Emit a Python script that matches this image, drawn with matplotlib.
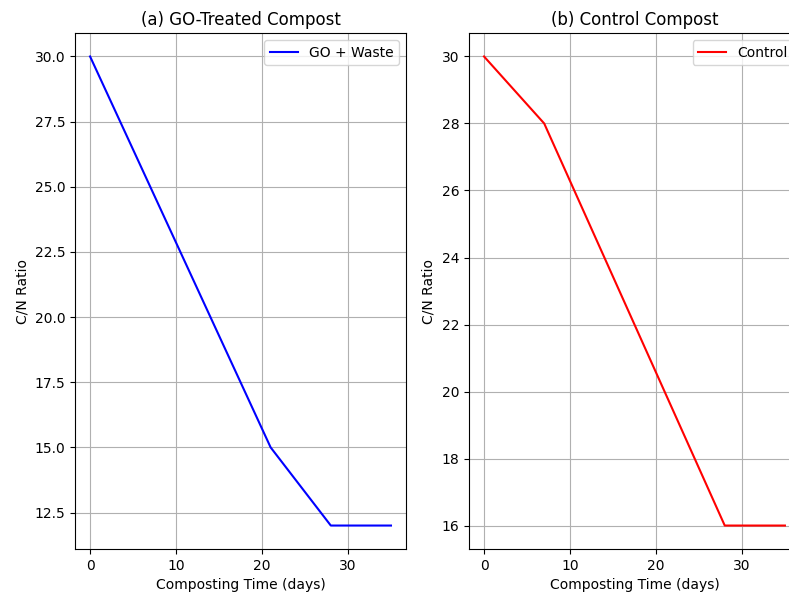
import numpy as np
import matplotlib
matplotlib.use('Agg')
import matplotlib.pyplot as plt

days = [0, 7, 14, 21, 28, 35]
cn_go_waste = [30, 25, 20, 15, 12, 12]
cn_control = [30, 28, 24, 20, 16, 16]

fig = plt.figure(figsize = (7.89, 5.97), dpi = 100)

# right panel runs past the figure edge, as in the reference
ax1 = fig.add_axes([0.0951, 0.0804, 0.4195, 0.8643])
ax2 = fig.add_axes([0.5944, 0.0804, 0.4195, 0.8643])

ax1.plot(days, cn_go_waste, color = 'blue', label = 'GO + Waste')
ax1.set_title('(a) GO-Treated Compost')
ax1.set_xlabel('Composting Time (days)')
ax1.set_ylabel('C/N Ratio')
ax1.grid()
ax1.legend(loc = 'upper right')

ax2.plot(days, cn_control, color = 'red', label = 'Control')
ax2.set_title('(b) Control Compost')
ax2.set_xlabel('Composting Time (days)')
ax2.set_ylabel('C/N Ratio')
ax2.grid()
ax2.legend(loc = 'upper right')

fig.savefig('out.png', dpi = 100)
